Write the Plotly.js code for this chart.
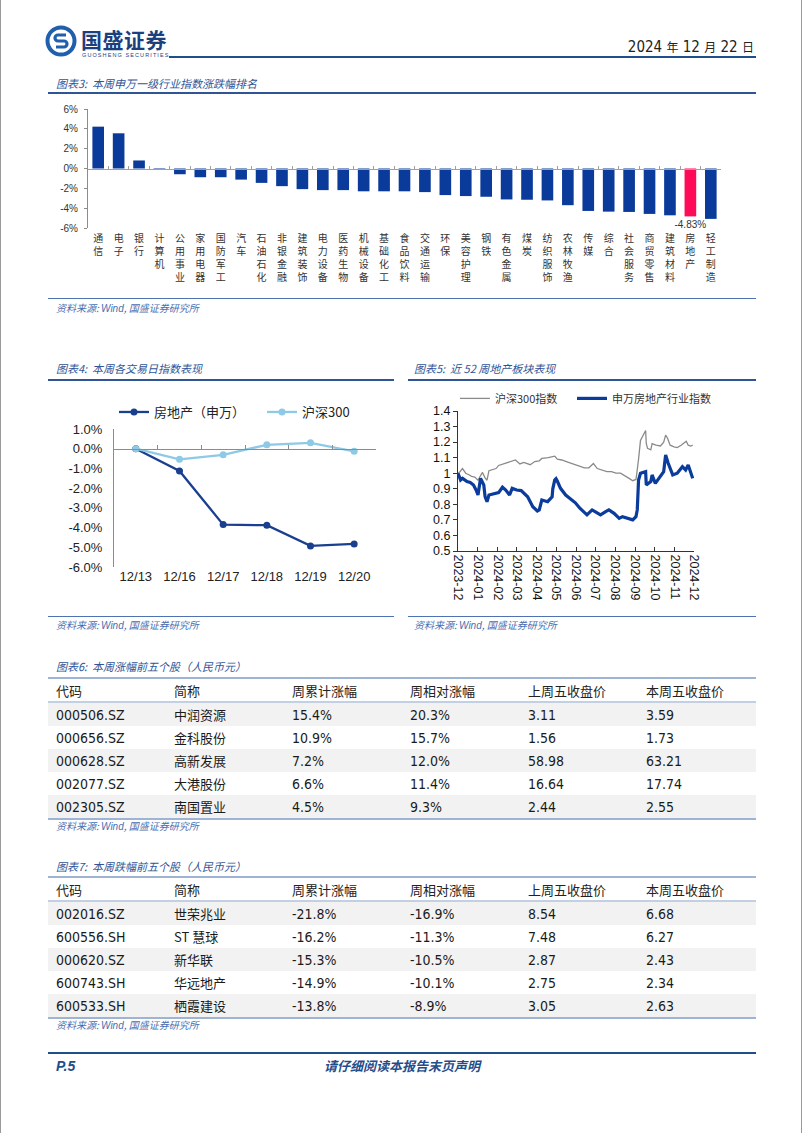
<!DOCTYPE html>
<html><head><meta charset="utf-8">
<script src="https://cdn.plot.ly/plotly-3.0.1.min.js"></script>
<style>
body{margin:0;padding:0;background:#fff;}
#page{position:relative;width:802px;height:1133px;overflow:hidden;background:#fff;font-family:"Noto Sans CJK SC","Liberation Sans",sans-serif;box-sizing:border-box;border-left:1px solid #9a9a9a;border-right:1px solid #9a9a9a;}
.rule{position:absolute;height:0;border-top:2px solid #2f5597;}
.srule{position:absolute;height:0;border-top:1.5px solid #4f72b4;}
.ttl{position:absolute;font-size:11px;font-style:italic;color:#2f5597;white-space:nowrap;line-height:14px;}
.src{position:absolute;font-size:10px;font-style:italic;color:#4a6fb0;white-space:nowrap;line-height:13px;}
.src i{font-family:"Liberation Sans",sans-serif;}
.chart{position:absolute;}
table.tb{position:absolute;left:47px;width:708px;border-collapse:collapse;table-layout:fixed;font-family:"Liberation Sans Narrow","DejaVu Sans Condensed","Noto Sans CJK SC",sans-serif;font-size:14px;color:#1a1a1a;}
table.tb th{font-family:"Noto Sans CJK SC",sans-serif;font-weight:normal;font-size:13px;text-align:left;padding:0 0 0 8px;height:22px;border-top:2px solid #9fb3d4;border-bottom:2px solid #c3cfe2;color:#222;}
table.tb td{padding:0 0 0 8px;height:23px;text-align:left;white-space:nowrap;}
table.tb tr.odd td{background:#f2f2f2;}
table.tb tr.last td{border-bottom:2px solid #9fb3d4;}
.cn{font-family:"Noto Sans CJK SC",sans-serif;font-size:13px;}
.dcn{font-family:"Noto Sans CJK SC",sans-serif;font-size:12px;}
</style>
</head><body>
<div id="page">
  <!-- header -->
  <svg style="position:absolute;left:44px;top:25px" width="32" height="32" viewBox="0 0 32 32">
    <circle cx="16" cy="16" r="13.5" fill="none" stroke="#1f5fae" stroke-width="4"/>
    <path d="M21 10 H13 a3 3 0 0 0 0 6 H19 a3 3 0 0 1 0 6 H11" fill="none" stroke="#1f5fae" stroke-width="3.2"/>
  </svg>
  <div style="position:absolute;left:80px;top:28px;font-size:21px;font-weight:bold;color:#1c3f7e;letter-spacing:0.5px;line-height:23px;">国盛证券</div>
  <div style="position:absolute;left:81px;top:52px;font-size:5.5px;color:#1c3f7e;letter-spacing:1.1px;font-family:'Liberation Sans',sans-serif;line-height:6px;">GUOSHENG SECURITIES</div>
  <div style="position:absolute;right:47px;top:37px;font-size:15px;color:#222;white-space:nowrap;line-height:20px;font-family:'Liberation Sans Narrow','DejaVu Sans Condensed',sans-serif;">2024 <span class="dcn">年</span> 12 <span class="dcn">月</span> 22 <span class="dcn">日</span></div>
  <div class="rule" style="left:168px;width:587px;top:56px;border-top-color:#1f4e8c;"></div>

  <!-- chart 3 -->
  <div class="ttl" style="left:55px;top:76px;">图表3:&nbsp; 本周申万一级行业指数涨跌幅排名</div>
  <div class="rule" style="left:47px;width:708px;top:92px;"></div>
  <div id="c3" class="chart" style="left:40px;top:100px;width:700px;height:195px;"></div>
  <div class="srule" style="left:47px;width:708px;top:298px;"></div>
  <div class="src" style="left:55px;top:301px;">资料来源: <i>Wind</i>, 国盛证券研究所</div>

  <!-- chart 4 -->
  <div class="ttl" style="left:55px;top:361px;">图表4:&nbsp; 本周各交易日指数表现</div>
  <div class="rule" style="left:47px;width:346px;top:379px;"></div>
  <div id="c4" class="chart" style="left:40px;top:385px;width:355px;height:230px;"></div>
  <div class="srule" style="left:47px;width:346px;top:616px;"></div>
  <div class="src" style="left:55px;top:618px;">资料来源: <i>Wind</i>, 国盛证券研究所</div>

  <!-- chart 5 -->
  <div class="ttl" style="left:413px;top:361px;">图表5:&nbsp; 近 52 周地产板块表现</div>
  <div class="rule" style="left:407px;width:348px;top:379px;"></div>
  <div id="c5" class="chart" style="left:400px;top:385px;width:400px;height:230px;"></div>
  <div class="srule" style="left:407px;width:348px;top:616px;"></div>
  <div class="src" style="left:413px;top:618px;">资料来源: <i>Wind</i>, 国盛证券研究所</div>

  <!-- table 6 -->
  <div class="ttl" style="left:55px;top:659px;">图表6:&nbsp; 本周涨幅前五个股（人民币元）</div>
  <table id="t6" class="tb" style="top:677px;"></table>
  <div class="src" style="left:55px;top:819px;">资料来源: <i>Wind</i>, 国盛证券研究所</div>

  <!-- table 7 -->
  <div class="ttl" style="left:55px;top:859px;">图表7:&nbsp; 本周跌幅前五个股（人民币元）</div>
  <table id="t7" class="tb" style="top:876px;"></table>
  <div class="src" style="left:55px;top:1018px;">资料来源: <i>Wind</i>, 国盛证券研究所</div>

  <!-- footer -->
  <div class="rule" style="left:47px;width:708px;top:1052px;border-top-color:#1f4e8c;"></div>
  <div style="position:absolute;left:55px;top:1057px;font-size:14px;font-weight:bold;font-style:italic;color:#1f4e8c;font-family:'Liberation Sans',sans-serif;line-height:18px;">P.5</div>
  <div style="position:absolute;left:0;width:802px;text-align:center;top:1057px;font-size:13px;font-weight:bold;font-style:italic;color:#1f4e8c;line-height:18px;">请仔细阅读本报告末页声明</div>
</div>
<script>
// ---------- Chart 3 data ----------
const industries = ['通信','电子','银行','计算机','公用事业','家用电器','国防军工','汽车','石油石化','非银金融','建筑装饰','电力设备','医药生物','机械设备','基础化工','食品饮料','交通运输','环保','美容护理','钢铁','有色金属','煤炭','纺织服饰','农林牧渔','传媒','综合','社会服务','商贸零售','建筑材料','房地产','轻工制造'];
const weeklyChg = [4.22, 3.55, 0.81, -0.12, -0.58, -0.88, -0.88, -1.12, -1.45, -1.78, -2.08, -2.18, -2.18, -2.30, -2.30, -2.30, -2.38, -2.68, -2.78, -2.85, -3.12, -3.15, -3.22, -3.70, -4.28, -4.35, -4.38, -4.58, -4.72, -4.83, -5.08];
const highlightIndustry = '房地产';
const yTicks3 = [6, 4, 2, 0, -2, -4, -6];

// ---------- Chart 4 data ----------
const tradeDays = ['12/13','12/16','12/17','12/18','12/19','12/20'];
const reDaily = [0, -1.13, -3.85, -3.88, -4.93, -4.83];
const hsDaily = [0, -0.54, -0.31, 0.20, 0.30, -0.13];
const yTicks4 = [1, 0, -1, -2, -3, -4, -5, -6];

// ---------- Chart 5 data ----------
const hsDates = ['2023-12-22','2023-12-25','2023-12-29','2024-01-03','2024-01-08','2024-01-12','2024-01-17','2024-01-22','2024-01-26','2024-01-29','2024-02-02','2024-02-05','2024-02-08','2024-02-19','2024-02-23','2024-03-01','2024-03-08','2024-03-15','2024-03-20','2024-03-27','2024-04-02','2024-04-12','2024-04-19','2024-04-26','2024-04-30','2024-05-10','2024-05-20','2024-05-24','2024-05-31','2024-06-07','2024-06-14','2024-06-21','2024-06-28','2024-07-05','2024-07-12','2024-07-19','2024-07-25','2024-08-02','2024-08-09','2024-08-16','2024-08-23','2024-08-30','2024-09-06','2024-09-13','2024-09-18','2024-09-23','2024-09-24','2024-09-26','2024-09-27','2024-09-30','2024-10-08','2024-10-09','2024-10-11','2024-10-16','2024-10-18','2024-10-24','2024-10-31','2024-11-05','2024-11-08','2024-11-11','2024-11-15','2024-11-21','2024-11-26','2024-12-02','2024-12-06','2024-12-10','2024-12-13','2024-12-17','2024-12-20'];
const hsIndex = [1.0, 1.01, 1.03, 1.0, 0.99, 0.98, 0.975, 0.955, 0.985, 1.005, 0.97, 0.955, 1.016, 1.03, 1.05, 1.06, 1.07, 1.075, 1.085, 1.06, 1.07, 1.055, 1.075, 1.08, 1.095, 1.1, 1.11, 1.09, 1.085, 1.075, 1.065, 1.055, 1.04, 1.035, 1.035, 1.062, 1.03, 1.02, 1.01, 1.01, 1.0, 1.0, 0.985, 0.965, 0.952, 0.96, 0.99, 1.04, 1.09, 1.21, 1.275, 1.19, 1.16, 1.15, 1.19, 1.18, 1.175, 1.2, 1.245, 1.225, 1.18, 1.17, 1.165, 1.18, 1.19, 1.205, 1.18, 1.175, 1.18];
const reDates = ['2023-12-22','2023-12-26','2023-12-29','2024-01-05','2024-01-10','2024-01-15','2024-01-19','2024-01-22','2024-01-26','2024-01-31','2024-02-02','2024-02-05','2024-02-08','2024-02-19','2024-02-23','2024-02-29','2024-03-05','2024-03-11','2024-03-15','2024-03-22','2024-03-29','2024-04-08','2024-04-16','2024-04-23','2024-04-26','2024-04-30','2024-05-09','2024-05-16','2024-05-17','2024-05-20','2024-05-22','2024-05-24','2024-05-29','2024-06-06','2024-06-13','2024-06-21','2024-06-28','2024-07-09','2024-07-17','2024-07-22','2024-07-30','2024-08-07','2024-08-12','2024-08-20','2024-08-28','2024-09-02','2024-09-06','2024-09-18','2024-09-23','2024-09-25','2024-09-27','2024-09-30','2024-10-08','2024-10-09','2024-10-16','2024-10-18','2024-10-23','2024-10-31','2024-11-05','2024-11-08','2024-11-12','2024-11-19','2024-11-26','2024-12-04','2024-12-09','2024-12-13','2024-12-17','2024-12-20'];
const reIndex = [1.0, 0.956, 0.967, 0.946, 0.94, 0.924, 0.892, 0.86, 0.967, 0.924, 0.849, 0.817, 0.86, 0.871, 0.875, 0.91, 0.892, 0.86, 0.903, 0.892, 0.888, 0.849, 0.785, 0.757, 0.764, 0.828, 0.817, 0.849, 0.9, 0.956, 0.965, 0.95, 0.903, 0.86, 0.839, 0.81, 0.775, 0.732, 0.764, 0.753, 0.732, 0.753, 0.764, 0.742, 0.71, 0.721, 0.717, 0.70, 0.721, 0.764, 0.956, 1.0, 1.01, 0.924, 0.946, 0.989, 0.935, 0.978, 1.01, 1.117, 1.064, 0.989, 1.0, 1.042, 1.021, 1.053, 1.01, 0.967];
const monthTicks = ['2023-12','2024-01','2024-02','2024-03','2024-04','2024-05','2024-06','2024-07','2024-08','2024-09','2024-10','2024-11','2024-12'];
const yTicks5 = [0.5, 0.6, 0.7, 0.8, 0.9, 1, 1.1, 1.2, 1.3, 1.4];

// ---------- Tables ----------
const tableHeader = ['代码','简称','周累计涨幅','周相对涨幅','上周五收盘价','本周五收盘价'];
const gainCodes = ['000506.SZ','000656.SZ','000628.SZ','002077.SZ','002305.SZ'];
const gainNames = ['中润资源','金科股份','高新发展','大港股份','南国置业'];
const gainWeek = [15.4, 10.9, 7.2, 6.6, 4.5];
const gainRel = [20.3, 15.7, 12.0, 11.4, 9.3];
const gainPrev = [3.11, 1.56, 58.98, 16.64, 2.44];
const gainClose = [3.59, 1.73, 63.21, 17.74, 2.55];
const lossCodes = ['002016.SZ','600556.SH','000620.SZ','600743.SH','600533.SH'];
const lossNames = ['世荣兆业','ST 慧球','新华联','华远地产','栖霞建设'];
const lossWeek = [-21.8, -16.2, -15.3, -14.9, -13.8];
const lossRel = [-16.9, -11.3, -10.5, -10.1, -8.9];
const lossPrev = [8.54, 7.48, 2.87, 2.75, 3.05];
const lossClose = [6.68, 6.27, 2.43, 2.34, 2.63];

const CN = 'Noto Sans CJK SC, sans-serif';
const LS = 'Liberation Sans, Arial, sans-serif';
const cfg = {displayModeBar:false, staticPlot:true};

// ---------- Chart 3 ----------
(function(){
  const n = industries.length;
  const colors = industries.map(c => c === highlightIndustry ? '#ff0a58' : '#0a3a9a');
  const texts = industries.map((c,i) => c === highlightIndustry ? weeklyChg[i].toFixed(2) + '%' : '');
  const data = [
    {type:'bar', x:industries, y:weeklyChg, marker:{color:colors}, width:0.57,
     text:texts, textposition:'outside', cliponaxis:false, constraintext:'none',
     textfont:{family:LS, size:10, color:'#333'}, hoverinfo:'skip', showlegend:false},
    {type:'scatter', x:[], y:[], xaxis:'x2', showlegend:false, hoverinfo:'skip'}
  ];
  const layout = {
    width:700, height:195, margin:{l:47, r:20, t:9, b:67, autoexpand:false},
    paper_bgcolor:'rgba(0,0,0,0)', plot_bgcolor:'rgba(0,0,0,0)', showlegend:false,
    xaxis:{type:'category', range:[-0.5, n-0.5], tickvals:industries,
      ticktext:industries.map(s => s.split('').join('<br>')),
      tickangle:0, showline:false, ticks:'', showgrid:false, zeroline:false, ticklabelstandoff:3,
      tickfont:{family:CN, size:10, color:'#333'}},
    xaxis2:{type:'linear', overlaying:'x', anchor:'free', position:0.5, range:[-0.5, n-0.5],
      showline:true, linecolor:'#a0a0a0', linewidth:1, ticks:'inside', ticklen:3, tickcolor:'#a0a0a0',
      tick0:0.5, dtick:1, showticklabels:false, showgrid:false, zeroline:false},
    yaxis:{range:[-6,6], tickvals:yTicks3, ticktext:yTicks3.map(v => v + '%'),
      showline:true, linecolor:'#8c8c8c', linewidth:1, showgrid:false, zeroline:false,
      ticks:'outside', ticklen:3, tickcolor:'#8c8c8c', ticklabelstandoff:4,
      tickfont:{family:LS, size:10, color:'#333'}}
  };
  Plotly.newPlot('c3', data, layout, cfg);
})();

// ---------- Chart 4 ----------
(function(){
  const data = [
    {type:'scatter', mode:'lines+markers', name:'房地产（申万）', x:tradeDays, y:reDaily,
     line:{color:'#1a3f8f', width:2.3}, marker:{color:'#1a3f8f', size:7}, hoverinfo:'skip', legend:'legend', showlegend:true},
    {type:'scatter', mode:'lines+markers', name:'沪深300', x:tradeDays, y:hsDaily,
     line:{color:'#8ecae6', width:2.3}, marker:{color:'#8ecae6', size:7}, hoverinfo:'skip', legend:'legend2', showlegend:true},
    {type:'scatter', x:[], y:[], xaxis:'x2', showlegend:false, hoverinfo:'skip'}
  ];
  const nd = tradeDays.length;
  const legBase = {orientation:'h', xanchor:'left', y:1.123, yanchor:'middle',
      font:{family:CN, size:13, color:'#222'}, bgcolor:'rgba(0,0,0,0)', visible:true};
  const layout = {
    width:355, height:230, margin:{l:73, r:20, t:44, b:48, autoexpand:false},
    paper_bgcolor:'rgba(0,0,0,0)', plot_bgcolor:'rgba(0,0,0,0)', showlegend:true,
    xaxis:{type:'category', range:[-0.5, nd-0.5], showline:false, ticks:'', showgrid:false, zeroline:false,
      tickfont:{family:LS, size:13, color:'#222'}},
    xaxis2:{type:'linear', overlaying:'x', anchor:'free', position:6/7, range:[-0.5, nd-0.5],
      showline:true, linecolor:'#8c8c8c', linewidth:1, ticks:'inside', ticklen:4, tickcolor:'#8c8c8c',
      tick0:0.5, dtick:1, showticklabels:false, showgrid:false, zeroline:false},
    yaxis:{range:[-6,1], tickvals:yTicks4, ticktext:yTicks4.map(v => v.toFixed(1) + '%'),
      showline:true, linecolor:'#8c8c8c', linewidth:1, showgrid:false, zeroline:false, ticks:'',
      ticklabelstandoff:8, tickfont:{family:LS, size:13, color:'#222'}},
    legend:Object.assign({x:0.0}, legBase),
    legend2:Object.assign({x:0.565}, legBase)
  };
  Plotly.newPlot('c4', data, layout, cfg);
})();

// ---------- Chart 5 ----------
(function(){
  const data = [
    {type:'scatter', mode:'lines', name:'沪深300指数', x:hsDates, y:hsIndex,
     line:{color:'#8a8a8a', width:1.3}, hoverinfo:'skip', legend:'legend', showlegend:true},
    {type:'scatter', mode:'lines', name:'申万房地产行业指数', x:reDates, y:reIndex,
     line:{color:'#0b3b9b', width:3.2}, hoverinfo:'skip', legend:'legend2', showlegend:true}
  ];
  const legBase = {orientation:'h', xanchor:'left', y:1.09, yanchor:'middle',
      font:{family:CN, size:11, color:'#333'}, bgcolor:'rgba(0,0,0,0)', visible:true};
  const layout = {
    width:400, height:230, margin:{l:57, r:107, t:26, b:64, autoexpand:false},
    paper_bgcolor:'rgba(0,0,0,0)', plot_bgcolor:'rgba(0,0,0,0)', showlegend:true,
    xaxis:{type:'date', range:['2023-12-22','2024-12-22'],
      tickvals:monthTicks.map(m => m + '-22'), ticktext:monthTicks, tickangle:90,
      showline:true, linecolor:'#333', linewidth:1, ticks:'inside', ticklen:4, tickcolor:'#333',
      showgrid:false, zeroline:false, tickfont:{family:LS, size:12.5, color:'#111'}},
    yaxis:{range:[0.5,1.4], tickvals:yTicks5, ticktext:yTicks5.map(v => String(v)),
      showline:true, linecolor:'#333', linewidth:1, ticks:'outside', ticklen:4, tickcolor:'#333',
      showgrid:false, zeroline:false, tickfont:{family:LS, size:12.5, color:'#111'}},
    legend:Object.assign({x:-0.013}, legBase),
    legend2:Object.assign({x:0.483}, legBase)
  };
  Plotly.newPlot('c5', data, layout, cfg);
})();

// ---------- Tables ----------
function buildTable(id, codes, names, wk, rel, prev, close){
  const t = document.getElementById(id);
  let h = '<colgroup>' + tableHeader.map(() => '<col style="width:118px">').join('') + '</colgroup>';
  h += '<thead><tr>' + tableHeader.map(s => '<th>' + s + '</th>').join('') + '</tr></thead><tbody>';
  codes.forEach((c, i) => {
    const cls = (i % 2 === 0 ? 'odd' : '') + (i === codes.length - 1 ? ' last' : '');
    h += '<tr class="' + cls + '"><td>' + c + '</td><td class="cn">' + names[i] + '</td><td>' +
      wk[i].toFixed(1) + '%</td><td>' + rel[i].toFixed(1) + '%</td><td>' + prev[i].toFixed(2) +
      '</td><td>' + close[i].toFixed(2) + '</td></tr>';
  });
  h += '</tbody>';
  t.innerHTML = h;
}
buildTable('t6', gainCodes, gainNames, gainWeek, gainRel, gainPrev, gainClose);
buildTable('t7', lossCodes, lossNames, lossWeek, lossRel, lossPrev, lossClose);
</script>
</body></html>
